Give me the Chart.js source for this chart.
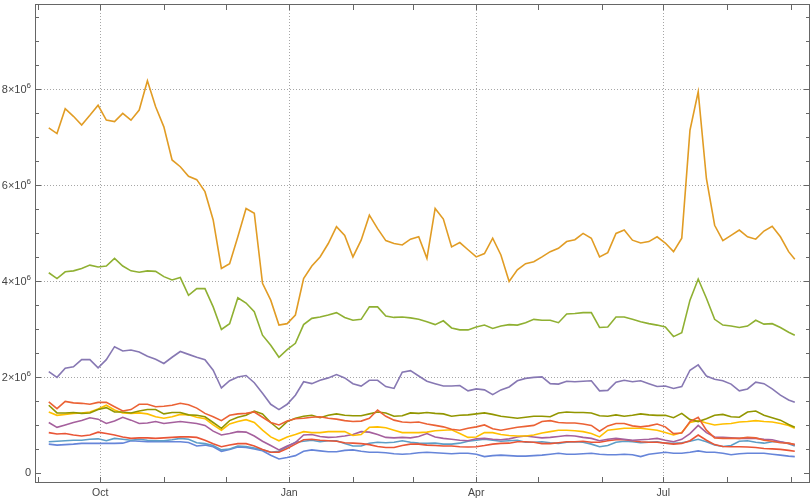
<!DOCTYPE html>
<html>
<head>
<meta charset="utf-8">
<script src="https://cdn.jsdelivr.net/npm/chart.js@4.4.1/dist/chart.umd.min.js"></script>
<style>
  body { margin: 0; background: #fff; }
</style>
</head>
<body>
<canvas id="chart" width="812" height="501"></canvas>
<script>
// x values: days counted from 1 Sep of the first year (leap year in between)
const days = [5, 9, 13, 17, 21, 25, 29, 33, 37, 41, 45, 49, 53, 57, 61, 65, 69, 73, 77, 81,
    85, 89, 93, 97, 101, 105, 109, 113, 117, 121, 125, 129, 133, 137, 141, 145, 149, 153, 157, 161,
    165, 169, 173, 177, 181, 185, 189, 193, 197, 201, 205, 209, 213, 217, 221, 225, 229, 233, 237, 241,
    245, 249, 253, 257, 261, 265, 269, 273, 277, 281, 285, 289, 293, 297, 301, 305, 309, 313, 317, 321,
    325, 329, 333, 337, 341, 345, 349, 353, 357, 361, 365, 368];

// month starts (days from 1 Sep) and their names
const monthTicks = [0, 30, 61, 91, 122, 153, 182, 213, 243, 274, 304, 335, 366];
const monthNames = ['Sep', 'Oct', 'Nov', 'Dec', 'Jan', 'Feb', 'Mar', 'Apr', 'May', 'Jun', 'Jul', 'Aug', 'Sep'];
const labelledMonths = [30, 122, 213, 304];

// y values in millions
const yTicks = [0, 2, 4, 6, 8];

const orangeLine = [7.20, 7.08, 7.60, 7.44, 7.26, 7.46, 7.67, 7.36, 7.33, 7.50, 7.36, 7.57, 8.18, 7.64, 7.22, 6.53, 6.39, 6.19, 6.12, 5.87,
    5.28, 4.27, 4.37, 4.93, 5.52, 5.42, 3.96, 3.61, 3.09, 3.12, 3.30, 4.06, 4.32, 4.51, 4.79, 5.14, 4.96, 4.51, 4.86, 5.38,
    5.10, 4.85, 4.79, 4.76, 4.88, 4.93, 4.48, 5.52, 5.30, 4.72, 4.81, 4.66, 4.51, 4.58, 4.90, 4.55, 4.00, 4.24, 4.37, 4.41,
    4.51, 4.62, 4.69, 4.83, 4.87, 5.00, 4.90, 4.51, 4.60, 5.00, 5.07, 4.86, 4.80, 4.83, 4.93, 4.80, 4.62, 4.90, 7.15, 7.95,
    6.14, 5.17, 4.85, 4.96, 5.07, 4.93, 4.88, 5.05, 5.15, 4.93, 4.62, 4.46];

const greenLine = [4.18, 4.06, 4.20, 4.22, 4.27, 4.34, 4.30, 4.32, 4.48, 4.32, 4.22, 4.19, 4.22, 4.21, 4.10, 4.03, 4.08, 3.71, 3.85, 3.85,
    3.47, 3.00, 3.12, 3.66, 3.55, 3.37, 2.88, 2.67, 2.42, 2.58, 2.71, 3.10, 3.23, 3.26, 3.30, 3.35, 3.25, 3.19, 3.21, 3.47,
    3.47, 3.28, 3.25, 3.26, 3.24, 3.21, 3.16, 3.10, 3.18, 3.03, 2.99, 2.99, 3.05, 3.09, 3.02, 3.07, 3.10, 3.09, 3.14, 3.21,
    3.19, 3.19, 3.14, 3.32, 3.33, 3.35, 3.35, 3.04, 3.05, 3.26, 3.26, 3.21, 3.16, 3.12, 3.09, 3.05, 2.85, 2.93, 3.61, 4.05,
    3.65, 3.21, 3.09, 3.07, 3.04, 3.07, 3.19, 3.11, 3.12, 3.04, 2.94, 2.88];

const purpleLine = [2.12, 2.00, 2.19, 2.22, 2.37, 2.37, 2.20, 2.37, 2.64, 2.55, 2.57, 2.53, 2.44, 2.38, 2.29, 2.42, 2.54, 2.48, 2.42, 2.37,
    2.15, 1.78, 1.93, 2.01, 2.04, 1.89, 1.67, 1.44, 1.33, 1.44, 1.63, 1.91, 1.87, 1.94, 1.99, 2.06, 1.99, 1.87, 1.82, 1.94,
    1.94, 1.81, 1.77, 2.11, 2.14, 2.03, 1.92, 1.87, 1.82, 1.82, 1.83, 1.72, 1.76, 1.74, 1.64, 1.74, 1.80, 1.93, 1.98, 2.00,
    2.01, 1.87, 1.86, 1.92, 1.91, 1.92, 1.93, 1.72, 1.73, 1.90, 1.94, 1.91, 1.93, 1.87, 1.81, 1.82, 1.77, 1.81, 2.15, 2.26,
    2.03, 1.96, 1.93, 1.86, 1.72, 1.76, 1.90, 1.87, 1.76, 1.63, 1.53, 1.48];

const redUpper = [1.49, 1.35, 1.50, 1.47, 1.46, 1.44, 1.48, 1.48, 1.39, 1.30, 1.33, 1.44, 1.44, 1.39, 1.40, 1.42, 1.46, 1.43, 1.36, 1.25,
    1.18, 1.10, 1.21, 1.24, 1.25, 1.28, 1.17, 1.06, 1.01, 1.09, 1.14, 1.15, 1.17, 1.18, 1.15, 1.13, 1.10, 1.08, 1.09, 1.15,
    1.32, 1.19, 1.11, 1.07, 1.06, 1.07, 1.03, 1.00, 0.97, 0.92, 0.90, 0.94, 0.97, 1.01, 0.93, 0.90, 0.93, 0.96, 0.98, 1.00,
    1.08, 1.10, 1.06, 1.05, 1.05, 1.03, 1.00, 0.88, 0.99, 1.04, 1.04, 0.99, 0.97, 0.99, 1.03, 0.97, 0.83, 0.84, 1.08, 1.17,
    0.90, 0.74, 0.73, 0.73, 0.73, 0.75, 0.74, 0.69, 0.67, 0.64, 0.63, 0.60];

const oliveLine = [1.42, 1.26, 1.26, 1.27, 1.25, 1.26, 1.33, 1.37, 1.28, 1.28, 1.26, 1.30, 1.33, 1.33, 1.24, 1.27, 1.27, 1.22, 1.21, 1.18,
    1.06, 0.94, 1.10, 1.17, 1.21, 1.30, 1.24, 1.06, 0.92, 1.08, 1.15, 1.19, 1.21, 1.16, 1.21, 1.24, 1.21, 1.20, 1.20, 1.24,
    1.28, 1.26, 1.19, 1.20, 1.26, 1.25, 1.27, 1.25, 1.24, 1.19, 1.21, 1.22, 1.24, 1.26, 1.23, 1.19, 1.17, 1.15, 1.17, 1.19,
    1.19, 1.18, 1.26, 1.28, 1.27, 1.27, 1.26, 1.20, 1.19, 1.22, 1.19, 1.21, 1.24, 1.22, 1.21, 1.21, 1.16, 1.25, 1.12, 1.08,
    1.14, 1.21, 1.23, 1.18, 1.17, 1.28, 1.30, 1.21, 1.16, 1.11, 1.02, 0.96];

const yellowLine = [1.28, 1.21, 1.23, 1.25, 1.26, 1.28, 1.34, 1.42, 1.32, 1.26, 1.25, 1.26, 1.24, 1.18, 1.15, 1.18, 1.23, 1.22, 1.17, 1.14,
    1.01, 0.90, 1.03, 1.08, 1.12, 1.06, 0.90, 0.76, 0.68, 0.76, 0.81, 0.87, 0.85, 0.85, 0.87, 0.87, 0.87, 0.79, 0.81, 0.96,
    0.97, 0.95, 0.90, 0.85, 0.85, 0.85, 0.86, 0.89, 0.90, 0.91, 0.83, 0.75, 0.76, 0.85, 0.85, 0.81, 0.79, 0.78, 0.78, 0.80,
    0.84, 0.87, 0.90, 0.90, 0.89, 0.87, 0.83, 0.76, 0.90, 0.92, 0.94, 0.94, 0.94, 0.92, 0.90, 0.85, 0.80, 0.85, 1.06, 1.10,
    1.05, 1.01, 1.03, 1.04, 1.07, 1.08, 1.10, 1.08, 1.07, 1.04, 1.00, 0.94];

const magentaLine = [1.06, 0.96, 1.01, 1.06, 1.10, 1.16, 1.13, 1.04, 1.09, 1.17, 1.11, 1.04, 1.05, 1.08, 1.04, 1.06, 1.08, 1.06, 1.04, 1.00,
    0.88, 0.80, 0.83, 0.87, 0.86, 0.78, 0.67, 0.58, 0.49, 0.57, 0.64, 0.80, 0.81, 0.77, 0.75, 0.76, 0.78, 0.81, 0.87, 0.86,
    0.81, 0.75, 0.74, 0.75, 0.74, 0.77, 0.83, 0.76, 0.73, 0.71, 0.69, 0.68, 0.72, 0.73, 0.71, 0.70, 0.72, 0.76, 0.78, 0.76,
    0.74, 0.75, 0.77, 0.79, 0.78, 0.75, 0.73, 0.68, 0.71, 0.73, 0.71, 0.69, 0.70, 0.71, 0.73, 0.69, 0.66, 0.71, 0.83, 1.00,
    0.85, 0.76, 0.75, 0.74, 0.73, 0.73, 0.73, 0.71, 0.70, 0.66, 0.625, 0.60];

const redLower = [0.85, 0.82, 0.83, 0.80, 0.78, 0.80, 0.86, 0.83, 0.80, 0.76, 0.73, 0.74, 0.74, 0.73, 0.74, 0.75, 0.76, 0.76, 0.75, 0.69,
    0.62, 0.555, 0.59, 0.62, 0.62, 0.57, 0.50, 0.44, 0.44, 0.52, 0.61, 0.70, 0.71, 0.69, 0.68, 0.67, 0.64, 0.63, 0.62, 0.60,
    0.56, 0.54, 0.54, 0.58, 0.61, 0.61, 0.59, 0.58, 0.57, 0.57, 0.555, 0.55, 0.555, 0.58, 0.61, 0.625, 0.63, 0.66, 0.66, 0.65,
    0.62, 0.62, 0.64, 0.66, 0.66, 0.67, 0.65, 0.65, 0.68, 0.70, 0.70, 0.68, 0.66, 0.65, 0.65, 0.63, 0.61, 0.625, 0.68, 0.80,
    0.69, 0.60, 0.56, 0.555, 0.555, 0.55, 0.54, 0.52, 0.51, 0.50, 0.48, 0.46];

const lightBlueLine = [0.66, 0.67, 0.68, 0.69, 0.69, 0.71, 0.72, 0.68, 0.73, 0.71, 0.69, 0.71, 0.69, 0.68, 0.68, 0.70, 0.73, 0.71, 0.64, 0.62,
    0.58, 0.49, 0.51, 0.57, 0.56, 0.53, 0.49, 0.44, 0.46, 0.555, 0.65, 0.67, 0.69, 0.66, 0.68, 0.68, 0.625, 0.57, 0.57, 0.63,
    0.65, 0.64, 0.65, 0.68, 0.65, 0.63, 0.625, 0.63, 0.61, 0.61, 0.63, 0.67, 0.69, 0.71, 0.69, 0.67, 0.68, 0.69, 0.65, 0.65,
    0.66, 0.64, 0.625, 0.65, 0.66, 0.65, 0.61, 0.555, 0.58, 0.65, 0.67, 0.66, 0.64, 0.65, 0.66, 0.63, 0.625, 0.64, 0.67, 0.71,
    0.66, 0.59, 0.56, 0.58, 0.67, 0.68, 0.65, 0.63, 0.66, 0.66, 0.62, 0.57];

const blueLine = [0.61, 0.59, 0.60, 0.61, 0.625, 0.625, 0.625, 0.625, 0.625, 0.63, 0.68, 0.67, 0.66, 0.66, 0.66, 0.66, 0.66, 0.645, 0.57, 0.59,
    0.555, 0.46, 0.50, 0.55, 0.54, 0.51, 0.47, 0.38, 0.30, 0.33, 0.37, 0.46, 0.49, 0.47, 0.45, 0.45, 0.48, 0.49, 0.46, 0.44,
    0.44, 0.43, 0.41, 0.40, 0.41, 0.43, 0.44, 0.43, 0.42, 0.41, 0.42, 0.42, 0.40, 0.35, 0.37, 0.38, 0.37, 0.36, 0.36, 0.37,
    0.38, 0.40, 0.42, 0.40, 0.40, 0.41, 0.42, 0.40, 0.39, 0.39, 0.40, 0.39, 0.35, 0.40, 0.42, 0.44, 0.42, 0.42, 0.44, 0.47,
    0.44, 0.44, 0.42, 0.39, 0.41, 0.42, 0.42, 0.42, 0.40, 0.38, 0.36, 0.35];

const lines = [
    { values: orangeLine, color: '#e19c24' },
    { values: greenLine, color: '#8fb032' },
    { values: purpleLine, color: '#8778b3' },
    { values: redUpper, color: '#eb6235' },
    { values: oliveLine, color: '#929600' },
    { values: yellowLine, color: '#ffbf00' },
    { values: magentaLine, color: '#a5609d' },
    { values: redLower, color: '#e95536' },
    { values: lightBlueLine, color: '#5d9ec7' },
    { values: blueLine, color: '#6685d9' }
];

const frameColor = '#666666';
const textColor = '#444444';
const fontFamily = 'Liberation Sans';

// Mathematica-like frame: dotted grid, frame box with inward ticks, y labels with exponent
const framePlugin = {
    id: 'frame',
    beforeDatasetsDraw(chart) {
        const { ctx, chartArea: a, scales: { x, y } } = chart;
        ctx.save();
        ctx.strokeStyle = '#a6a6a6';
        ctx.lineWidth = 1;
        ctx.setLineDash([1, 2]);
        ctx.beginPath();
        labelledMonths.forEach(d => {
            const px = Math.round(x.getPixelForValue(d)) + 0.5;
            ctx.moveTo(px, a.top);
            ctx.lineTo(px, a.bottom);
        });
        yTicks.slice(1).forEach(v => {
            const py = Math.round(y.getPixelForValue(v)) + 0.5;
            ctx.moveTo(a.left, py);
            ctx.lineTo(a.right, py);
        });
        ctx.stroke();
        ctx.restore();
    },
    afterDatasetsDraw(chart) {
        const { ctx, chartArea: a, scales: { x, y } } = chart;
        ctx.save();
        ctx.strokeStyle = frameColor;
        ctx.lineWidth = 1;
        ctx.beginPath();
        // month ticks on bottom and top
        monthTicks.forEach(d => {
            const px = Math.round(x.getPixelForValue(d)) + 0.5;
            ctx.moveTo(px, a.bottom);
            ctx.lineTo(px, a.bottom - 6);
            ctx.moveTo(px, a.top);
            ctx.lineTo(px, a.top + 6);
        });
        // value ticks every half million, longer at labelled values
        for (let i = 0; i <= 19; i++) {
            const v = i / 2;
            const len = yTicks.includes(v) ? 6 : 4;
            const py = Math.round(y.getPixelForValue(v)) + 0.5;
            ctx.moveTo(a.left, py);
            ctx.lineTo(a.left + len, py);
            ctx.moveTo(a.right, py);
            ctx.lineTo(a.right - len, py);
        }
        ctx.stroke();
        ctx.strokeRect(a.left + 0.5, a.top + 0.5, a.right - a.left - 1, a.bottom - a.top - 1);

        // y labels: "n×10" with a raised exponent
        ctx.fillStyle = textColor;
        ctx.textBaseline = 'middle';
        ctx.textAlign = 'right';
        const right = a.left - 4;
        yTicks.forEach(v => {
            const py = y.getPixelForValue(v);
            if (v === 0) {
                ctx.font = '11px "' + fontFamily + '"';
                ctx.fillText('0', right, py);
                return;
            }
            ctx.font = '8px "' + fontFamily + '"';
            const expWidth = ctx.measureText('6').width;
            ctx.fillText('6', right, py - 4);
            ctx.font = '11px "' + fontFamily + '"';
            ctx.fillText(v + '×10', right - expWidth, py + 1);
        });
        ctx.restore();
    }
};

const ctx = document.getElementById('chart').getContext('2d');

new Chart(ctx, {
    type: 'line',
    data: {
        datasets: lines.map(line => ({
            data: days.map((d, i) => ({ x: d, y: line.values[i] })),
            borderColor: line.color,
            backgroundColor: line.color,
            borderWidth: 1.6,
            pointRadius: 0,
            tension: 0,
            fill: false
        }))
    },
    options: {
        responsive: false,
        animation: false,
        layout: { padding: { top: 4, right: 2, left: 0, bottom: 0 } },
        plugins: {
            legend: { display: false },
            tooltip: { enabled: false }
        },
        scales: {
            x: {
                type: 'linear',
                min: -1.7,
                max: 375.4,
                grid: { display: false, drawTicks: false },
                border: { display: false },
                afterBuildTicks: scale => {
                    scale.ticks = labelledMonths.map(v => ({ value: v }));
                },
                afterFit: scale => { scale.height = 18; },
                ticks: {
                    autoSkip: false,
                    maxRotation: 0,
                    padding: 4,
                    color: textColor,
                    font: { family: fontFamily, size: 10.5 },
                    callback: v => monthNames[monthTicks.indexOf(v)]
                }
            },
            y: {
                type: 'linear',
                min: -0.2,
                max: 9.78,
                grid: { display: false, drawTicks: false },
                border: { display: false },
                afterBuildTicks: scale => {
                    scale.ticks = yTicks.map(v => ({ value: v }));
                },
                afterFit: scale => { scale.width = 35; },
                ticks: { display: false }
            }
        }
    },
    plugins: [framePlugin]
});
</script>
</body>
</html>
